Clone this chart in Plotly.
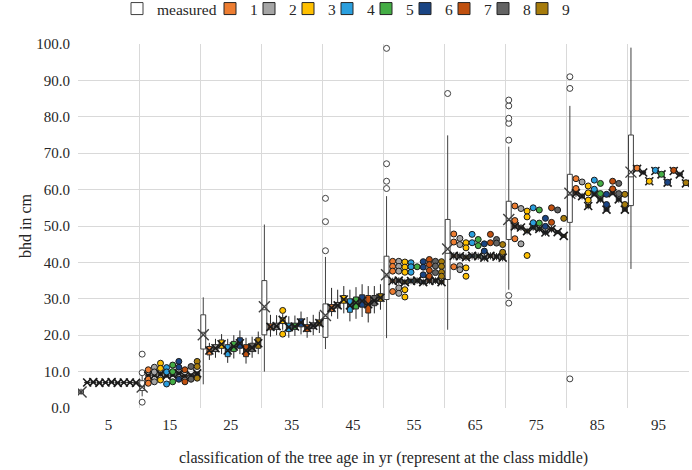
import plotly.graph_objects as go

SERIES_NAMES = ["measured", "1", "2", "3", "4", "5", "6", "7", "8", "9"]
COLORS = ["#FFFFFF", "#ED7D31", "#A5A5A5", "#FFC000", "#2A9FDE",
          "#44AD45", "#1A4584", "#C0500F", "#636363", "#A67B0B"]
CLASS_START = [0, 10, 20, 30, 40, 50, 60, 70, 80, 90]
CLASS_LABELS = ["5", "15", "25", "35", "45", "55", "65", "75", "85", "95"]

# rows: measured, model 1 ... model 9 ; columns: age classes
MEAN = [
    [4.4, 5.8, 20.1, 27.8, 25.4, 36.6, 43.7, 51.8, 59.0, 64.8],
    [7.0, 8.9, 15.8, 22.3, 27.5, 34.9, 41.8, 49.9, 59.0, 65.7],
    [7.1, 9.0, 16.4, 22.5, 28.2, 35.0, 41.7, 49.6, 58.2, 64.7],
    [6.9, 9.3, 17.5, 24.2, 29.8, 34.6, 41.4, 48.6, 55.5, 62.3],
    [7.0, 8.9, 15.8, 22.2, 28.2, 34.9, 41.8, 49.6, 58.7, 65.1],
    [7.1, 9.1, 16.9, 22.4, 28.9, 35.0, 41.7, 49.2, 57.3, 64.2],
    [6.9, 9.5, 17.8, 23.5, 29.4, 34.6, 41.3, 48.2, 54.5, 61.9],
    [7.0, 8.8, 15.8, 22.0, 28.5, 34.9, 41.8, 49.1, 59.0, 65.1],
    [7.0, 9.0, 16.6, 22.6, 29.5, 35.0, 41.6, 48.3, 57.3, 64.2],
    [6.9, 9.5, 17.8, 23.3, 30.3, 34.6, 41.3, 47.3, 54.5, 61.7],
]
Q1 = [
    [4.0, 4.8, 16.2, 20.1, 19.4, 29.8, 35.3, 46.3, 51.0, 55.6],
    [6.9, 8.6, 14.6, 21.5, 26.5, 34.5, 41.4, 49.5, 58.6, 65.4],
    [7.0, 8.7, 15.5, 21.6, 27.5, 34.6, 41.3, 49.2, 57.8, 64.4],
    [6.8, 9.0, 16.4, 23.2, 28.8, 34.2, 41.0, 48.2, 55.1, 62.0],
    [6.9, 8.6, 14.1, 21.0, 26.3, 34.5, 41.4, 49.2, 58.3, 64.8],
    [7.0, 8.8, 15.5, 21.6, 27.2, 34.6, 41.3, 48.8, 56.9, 63.9],
    [6.8, 9.2, 16.4, 22.3, 27.7, 34.2, 40.9, 47.8, 54.1, 61.6],
    [6.9, 8.5, 14.1, 21.0, 26.1, 34.5, 41.4, 48.7, 58.6, 64.8],
    [6.9, 8.7, 15.5, 21.8, 28.1, 34.6, 41.2, 47.9, 56.9, 63.9],
    [6.8, 9.2, 16.4, 22.6, 29.3, 34.2, 40.9, 46.9, 54.1, 61.4],
]
MED = [
    [4.4, 5.9, 20.8, 27.0, 24.6, 36.0, 42.5, 51.5, 58.5, 63.5],
    [7.0, 8.9, 15.6, 22.2, 27.4, 34.9, 41.8, 49.9, 59.0, 65.7],
    [7.1, 9.0, 16.4, 22.4, 28.2, 35.0, 41.7, 49.6, 58.2, 64.7],
    [6.9, 9.3, 17.6, 24.0, 29.9, 34.6, 41.4, 48.6, 55.5, 62.3],
    [7.0, 8.9, 15.6, 22.1, 28.0, 34.9, 41.8, 49.6, 58.7, 65.1],
    [7.1, 9.1, 16.9, 22.4, 28.8, 35.0, 41.7, 49.2, 57.3, 64.2],
    [6.9, 9.5, 17.9, 23.5, 29.4, 34.6, 41.3, 48.2, 54.5, 61.9],
    [7.0, 8.8, 15.7, 22.0, 28.4, 34.9, 41.8, 49.1, 59.0, 65.1],
    [7.0, 9.0, 16.6, 22.6, 29.5, 35.0, 41.6, 48.3, 57.3, 64.2],
    [6.9, 9.5, 17.9, 23.4, 30.4, 34.6, 41.3, 47.3, 54.5, 61.7],
]
Q3 = [
    [4.9, 7.5, 25.6, 35.0, 28.6, 41.7, 51.8, 56.8, 64.2, 75.0],
    [7.1, 9.2, 16.9, 23.1, 28.4, 35.3, 42.2, 50.3, 59.4, 66.0],
    [7.2, 9.3, 17.4, 23.3, 29.0, 35.4, 42.1, 50.0, 58.6, 65.0],
    [7.0, 9.6, 18.7, 24.8, 30.9, 35.0, 41.8, 49.0, 55.9, 62.6],
    [7.1, 9.2, 17.4, 23.3, 30.0, 35.3, 42.2, 50.0, 59.1, 65.4],
    [7.2, 9.4, 18.3, 23.3, 30.5, 35.4, 42.1, 49.6, 57.7, 64.5],
    [7.0, 9.8, 19.3, 24.5, 31.1, 35.0, 41.7, 48.6, 54.9, 62.2],
    [7.1, 9.1, 17.4, 22.9, 30.9, 35.3, 42.2, 49.5, 59.4, 65.4],
    [7.1, 9.3, 17.8, 23.4, 30.9, 35.4, 42.0, 48.7, 57.7, 64.5],
    [7.0, 9.8, 19.3, 24.2, 31.4, 35.0, 41.7, 47.7, 54.9, 62.0],
]
LO = [
    [3.6, 3.2, 6.5, 10.0, 16.2, 19.2, 21.5, 32.5, 32.3, 38.2],
    [6.7, 8.3, 13.2, 19.6, 25.2, 34.0, 40.8, 49.0, 58.0, 65.0],
    [6.8, 8.4, 13.8, 20.0, 24.5, 34.1, 40.7, 48.7, 57.3, 64.0],
    [6.6, 8.7, 14.8, 21.5, 26.0, 33.7, 40.4, 47.7, 54.6, 61.6],
    [6.7, 8.3, 12.4, 19.3, 23.8, 34.0, 40.8, 48.7, 58.2, 64.4],
    [6.8, 8.5, 13.6, 19.8, 24.5, 34.1, 40.7, 48.3, 56.4, 63.5],
    [6.6, 8.9, 14.8, 20.2, 25.0, 33.7, 40.3, 47.3, 54.0, 61.2],
    [6.7, 8.2, 12.2, 19.3, 23.5, 34.0, 40.8, 48.2, 58.5, 64.4],
    [6.7, 8.4, 13.8, 20.0, 26.0, 34.1, 40.6, 47.8, 56.4, 63.5],
    [6.6, 8.9, 14.8, 20.6, 27.0, 33.7, 40.3, 46.8, 54.0, 61.0],
]
HI = [
    [5.3, 9.0, 30.4, 50.4, 41.5, 58.2, 74.9, 71.8, 83.0, 99.0],
    [7.3, 9.5, 17.9, 25.6, 33.0, 35.8, 42.8, 50.8, 59.9, 66.4],
    [7.4, 9.6, 19.0, 25.5, 32.5, 35.9, 42.7, 50.5, 59.1, 65.4],
    [7.2, 9.9, 20.3, 25.8, 33.5, 35.5, 42.4, 49.5, 56.4, 63.0],
    [7.3, 9.5, 19.0, 25.2, 32.5, 35.8, 42.8, 50.5, 59.6, 65.8],
    [7.4, 9.7, 20.0, 25.4, 33.2, 35.9, 42.7, 50.1, 58.2, 64.9],
    [7.2, 10.1, 21.3, 26.5, 34.0, 35.5, 42.3, 49.1, 55.4, 62.6],
    [7.3, 9.4, 19.3, 25.0, 33.5, 35.8, 42.8, 50.0, 59.5, 65.8],
    [7.3, 9.6, 19.6, 25.6, 33.5, 35.9, 42.6, 48.8, 58.2, 64.9],
    [7.2, 10.1, 21.0, 26.5, 34.0, 35.5, 42.3, 47.8, 55.4, 62.4],
]
OUTLIERS = [
    [[], [14.8, 9.7, 1.6], [], [], [43.2, 51.2, 57.6], [60.3, 62.3, 67.1, 98.8],
     [86.4], [73.6, 78.2, 79.6, 83.0, 84.6, 30.9, 28.8], [87.8, 91.0, 8.0], []],
    [[], [10.5, 7.9, 6.8], [], [], [], [40.3, 38.9, 37.6, 32.0],
     [47.8, 45.6, 38.8], [55.5, 51.5, 46.5], [63.0, 60.3], [65.9]],
    [[], [11.2, 9.9, 7.2], [], [], [], [40.3, 38.9, 37.6, 33.0, 31.5],
     [46.6, 44.9, 39.1, 38.0], [54.8, 45.1], [62.1], []],
    [[], [12.3, 10.9, 7.7], [], [26.8, 20.3], [], [40.1, 38.7, 37.3, 32.5, 30.5],
     [45.4, 44.0, 38.5, 36.2], [54.1, 52.5, 41.9], [61.0, 59.1, 57.1], [62.3]],
    [[], [11.1, 9.9, 6.6], [], [], [], [39.9, 38.8, 37.3],
     [47.7, 45.4], [55.0, 50.9], [62.6, 60.1], [65.3]],
    [[], [11.8, 10.0, 7.2], [], [], [], [38.8],
     [46.3, 44.6], [54.4, 50.8], [61.7, 58.9], [64.2]],
    [[], [12.8, 11.2, 7.9], [], [], [], [40.2, 38.7, 36.6],
     [45.1, 43.1], [52.1, 49.9], [58.7, 55.9], [62.0]],
    [[], [10.5, 7.2], [], [], [], [40.8, 39.4, 37.8, 36.2],
     [47.7, 45.4], [55.0, 51.0], [62.3, 60.2], [65.3]],
    [[], [11.4, 7.9], [], [], [], [40.3, 39.0, 37.2],
     [46.3, 45.3], [54.4], [61.7, 58.9], []],
    [[], [12.8, 11.4, 8.2], [], [], [], [40.2, 38.9, 37.3, 36.2],
     [44.9, 42.8], [52.1], [58.7, 55.9], [61.9]],
]

# legend entry symbol positions (px from the left edge of the figure)
LEGEND_SYMBOL_PX = [141, 234, 273, 312, 351, 390, 429, 468, 507, 546]

FONT = "Liberation Serif, Times New Roman, serif"
W, H = 692, 470
fig = go.Figure()

legend_ids = ["legend"] + ["legend%d" % (i + 1) for i in range(1, len(SERIES_NAMES))]

for s, name in enumerate(SERIES_NAMES):
    xs = [c + 0.5 + s for c in CLASS_START]
    edge = "#404040" if s == 0 else "#262626"
    fig.add_trace(go.Box(
        x=xs, q1=Q1[s], median=MED[s], q3=Q3[s],
        lowerfence=LO[s], upperfence=HI[s],
        name=name, legendgroup=name, legend=legend_ids[s], fillcolor=COLORS[s],
        line=dict(color=edge, width=1), width=0.8, whiskerwidth=0,
        boxpoints=False, hoverinfo="skip",
    ))
for s, name in enumerate(SERIES_NAMES):
    xs = [c + 0.5 + s for c in CLASS_START]
    edge = "#404040" if s == 0 else "#1a1a1a"
    fig.add_trace(go.Scatter(
        x=xs, y=MEAN[s], mode="markers", legendgroup=name, showlegend=False,
        marker=dict(symbol="x-thin", size=11 if s == 0 else 8,
                    line=dict(width=1.4 if s == 0 else 1.6, color=edge)),
        hoverinfo="skip",
    ))
    ox, oy = [], []
    for c, vals in zip(CLASS_START, OUTLIERS[s]):
        for v in vals:
            ox.append(c + 0.5 + s)
            oy.append(v)
    fig.add_trace(go.Scatter(
        x=ox, y=oy, mode="markers", legendgroup=name, showlegend=False,
        marker=dict(symbol="circle", size=6, color=COLORS[s],
                    line=dict(width=1, color=edge)),
        hoverinfo="skip",
    ))

legend_layouts = {}
for s, lid in enumerate(legend_ids):
    legend_layouts[lid] = dict(
        xref="container", yref="container",
        x=(LEGEND_SYMBOL_PX[s] - 24) / W, xanchor="left",
        y=1 - 9 / H, yanchor="middle", orientation="h",
        bgcolor="rgba(0,0,0,0)", borderwidth=0, itemwidth=30,
        font=dict(family=FONT, size=15.5, color="#262626"),
    )

fig.update_layout(
    width=W, height=H,
    margin=dict(l=78, r=3, t=44, b=62, autoexpand=False),
    paper_bgcolor="white", plot_bgcolor="white",
    font=dict(family=FONT, size=15, color="#262626"),
    showlegend=True,
    xaxis=dict(
        range=[0, 100], tickmode="array", tickvals=[int(v) for v in CLASS_LABELS],
        ticktext=CLASS_LABELS, showgrid=False, zeroline=False, showline=False,
        ticks="", tickfont=dict(family=FONT, size=15), ticklabelstandoff=6,
        minor=dict(tickmode="linear", tick0=0, dtick=10, showgrid=True,
                   gridcolor="#D9D9D9", gridwidth=1, ticks=""),
        title=dict(text="classification of the tree age in yr (represent at the class middle)",
                   font=dict(family=FONT, size=16), standoff=19),
    ),
    yaxis=dict(
        range=[0, 100], dtick=10, tickformat=".1f", showgrid=True,
        gridcolor="#D9D9D9", gridwidth=1, zeroline=False, showline=False,
        ticks="", tickfont=dict(family=FONT, size=15), ticklabelstandoff=7,
        title=dict(text="bhd in cm", font=dict(family=FONT, size=16), standoff=0),
    ),
    **legend_layouts,
)

fig.write_html("out.html", config={"displayModeBar": False},
               post_script="document.body.style.margin='0px';")
